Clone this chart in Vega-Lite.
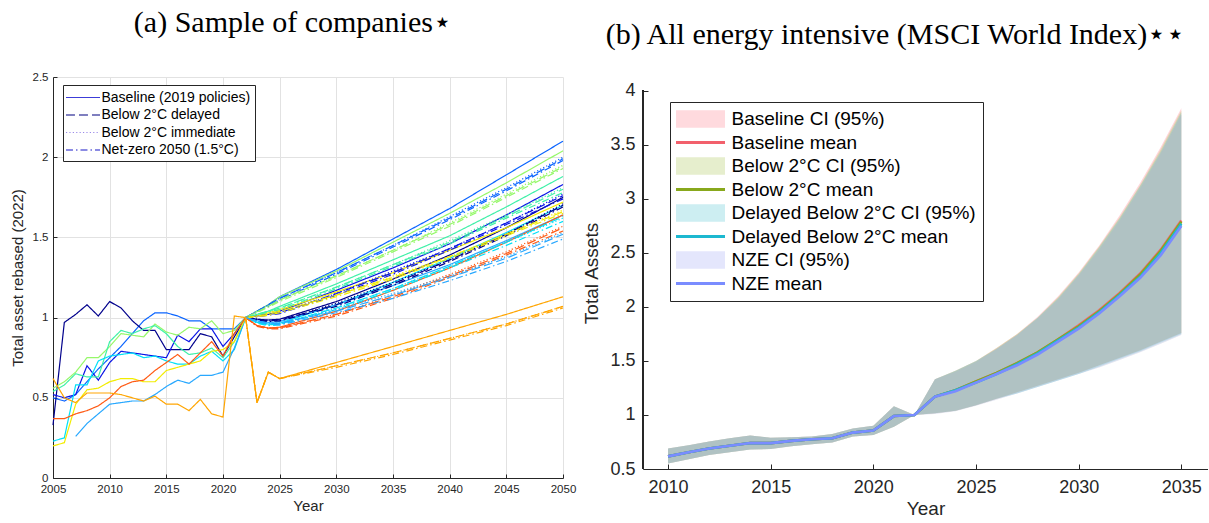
{
  "$schema": "https://vega.github.io/schema/vega-lite/v6.json",
  "background": "white",
  "padding": {"left": 10, "top": 8, "right": 0, "bottom": 0},
  "spacing": 6,
  "config": {
    "font": "Liberation Sans",
    "view": {"stroke": null},
    "axis": {
      "labelFont": "Liberation Sans",
      "titleFont": "Liberation Sans",
      "labelColor": "#262626",
      "titleColor": "#262626",
      "domainColor": "#262626",
      "tickColor": "#262626",
      "titleFontWeight": "normal",
      "labelFlush": false
    },
    "title": {"font": "Liberation Serif", "fontWeight": "normal", "color": "black"}
  },
  "resolve": {"scale": {"color": "independent", "shape": "independent", "strokeDash": "independent"}, "legend": {"color": "independent", "shape": "independent", "strokeDash": "independent"}},
  "hconcat": [
    {
      "width": 510,
      "height": 401,
      "title": {
        "text": "(a) Sample of companies⋆",
        "fontSize": 30,
        "baseline": "alphabetic",
        "offset": 9,
        "anchor": "middle",
        "frame": "bounds"
      },
      "data": {
        "values": [
          {"c": "az", "y": 2005, "B": 0.50}, {"c": "az", "y": 2006, "B": 0.48}, {"c": "az", "y": 2007, "B": 0.52}, {"c": "az", "y": 2008, "B": 0.60}, {"c": "az", "y": 2009, "B": 0.68}, {"c": "az", "y": 2010, "B": 0.75}, {"c": "az", "y": 2011, "B": 0.82}, {"c": "az", "y": 2012, "B": 0.90}, {"c": "az", "y": 2013, "B": 0.98}, {"c": "az", "y": 2014, "B": 1.03}, {"c": "az", "y": 2015, "B": 1.03}, {"c": "az", "y": 2016, "B": 1.01}, {"c": "az", "y": 2017, "B": 0.98}, {"c": "az", "y": 2018, "B": 0.98}, {"c": "az", "y": 2019, "B": 0.93}, {"c": "az", "y": 2020, "B": 0.93}, {"c": "az", "y": 2021, "B": 0.93},
          {"c": "nv", "y": 2005, "B": 0.33}, {"c": "nv", "y": 2006, "B": 0.97}, {"c": "nv", "y": 2007, "B": 1.02}, {"c": "nv", "y": 2008, "B": 1.08}, {"c": "nv", "y": 2009, "B": 1.01}, {"c": "nv", "y": 2010, "B": 1.10}, {"c": "nv", "y": 2011, "B": 1.06}, {"c": "nv", "y": 2012, "B": 0.98}, {"c": "nv", "y": 2013, "B": 0.92}, {"c": "nv", "y": 2014, "B": 0.92}, {"c": "nv", "y": 2015, "B": 0.80}, {"c": "nv", "y": 2016, "B": 0.80}, {"c": "nv", "y": 2017, "B": 0.80}, {"c": "nv", "y": 2018, "B": 0.90}, {"c": "nv", "y": 2019, "B": 0.88}, {"c": "nv", "y": 2020, "B": 0.76}, {"c": "nv", "y": 2021, "B": 0.88},
          {"c": "bl", "y": 2005, "B": 0.52}, {"c": "bl", "y": 2006, "B": 0.50}, {"c": "bl", "y": 2007, "B": 0.52}, {"c": "bl", "y": 2008, "B": 0.70}, {"c": "bl", "y": 2009, "B": 0.61}, {"c": "bl", "y": 2010, "B": 0.72}, {"c": "bl", "y": 2011, "B": 0.79}, {"c": "bl", "y": 2012, "B": 0.78}, {"c": "bl", "y": 2013, "B": 0.77}, {"c": "bl", "y": 2014, "B": 0.76}, {"c": "bl", "y": 2015, "B": 0.75}, {"c": "bl", "y": 2016, "B": 0.89}, {"c": "bl", "y": 2017, "B": 0.85}, {"c": "bl", "y": 2018, "B": 0.93}, {"c": "bl", "y": 2019, "B": 0.93}, {"c": "bl", "y": 2020, "B": 0.82}, {"c": "bl", "y": 2021, "B": 0.90},
          {"c": "lg", "y": 2005, "B": 0.56}, {"c": "lg", "y": 2006, "B": 0.60}, {"c": "lg", "y": 2007, "B": 0.66}, {"c": "lg", "y": 2008, "B": 0.75}, {"c": "lg", "y": 2009, "B": 0.75}, {"c": "lg", "y": 2010, "B": 0.82}, {"c": "lg", "y": 2011, "B": 0.90}, {"c": "lg", "y": 2012, "B": 0.89}, {"c": "lg", "y": 2013, "B": 0.88}, {"c": "lg", "y": 2014, "B": 0.96}, {"c": "lg", "y": 2015, "B": 0.91}, {"c": "lg", "y": 2016, "B": 0.89}, {"c": "lg", "y": 2017, "B": 0.94}, {"c": "lg", "y": 2018, "B": 0.93}, {"c": "lg", "y": 2019, "B": 0.98}, {"c": "lg", "y": 2020, "B": 0.90}, {"c": "lg", "y": 2021, "B": 0.92},
          {"c": "aq", "y": 2005, "B": 0.54}, {"c": "aq", "y": 2006, "B": 0.58}, {"c": "aq", "y": 2007, "B": 0.65}, {"c": "aq", "y": 2008, "B": 0.63}, {"c": "aq", "y": 2009, "B": 0.63}, {"c": "aq", "y": 2010, "B": 0.85}, {"c": "aq", "y": 2011, "B": 0.92}, {"c": "aq", "y": 2012, "B": 0.90}, {"c": "aq", "y": 2013, "B": 0.93}, {"c": "aq", "y": 2014, "B": 0.95}, {"c": "aq", "y": 2015, "B": 0.90}, {"c": "aq", "y": 2016, "B": 0.82}, {"c": "aq", "y": 2017, "B": 0.77}, {"c": "aq", "y": 2018, "B": 0.78}, {"c": "aq", "y": 2019, "B": 0.81}, {"c": "aq", "y": 2020, "B": 0.75}, {"c": "aq", "y": 2021, "B": 0.85},
          {"c": "cy", "y": 2005, "B": 0.23}, {"c": "cy", "y": 2006, "B": 0.25}, {"c": "cy", "y": 2007, "B": 0.58}, {"c": "cy", "y": 2008, "B": 0.58}, {"c": "cy", "y": 2009, "B": 0.73}, {"c": "cy", "y": 2010, "B": 0.76}, {"c": "cy", "y": 2011, "B": 0.77}, {"c": "cy", "y": 2012, "B": 0.78}, {"c": "cy", "y": 2013, "B": 0.75}, {"c": "cy", "y": 2014, "B": 0.76}, {"c": "cy", "y": 2015, "B": 0.73}, {"c": "cy", "y": 2016, "B": 0.71}, {"c": "cy", "y": 2017, "B": 0.71}, {"c": "cy", "y": 2018, "B": 0.76}, {"c": "cy", "y": 2019, "B": 0.79}, {"c": "cy", "y": 2020, "B": 0.73}, {"c": "cy", "y": 2021, "B": 0.80},
          {"c": "sk", "y": 2007, "B": 0.26}, {"c": "sk", "y": 2008, "B": 0.34}, {"c": "sk", "y": 2009, "B": 0.40}, {"c": "sk", "y": 2010, "B": 0.46}, {"c": "sk", "y": 2011, "B": 0.47}, {"c": "sk", "y": 2012, "B": 0.48}, {"c": "sk", "y": 2013, "B": 0.48}, {"c": "sk", "y": 2014, "B": 0.52}, {"c": "sk", "y": 2015, "B": 0.57}, {"c": "sk", "y": 2016, "B": 0.61}, {"c": "sk", "y": 2017, "B": 0.59}, {"c": "sk", "y": 2018, "B": 0.64}, {"c": "sk", "y": 2019, "B": 0.64}, {"c": "sk", "y": 2020, "B": 0.66}, {"c": "sk", "y": 2021, "B": 0.81},
          {"c": "ye", "y": 2005, "B": 0.20}, {"c": "ye", "y": 2006, "B": 0.22}, {"c": "ye", "y": 2007, "B": 0.46}, {"c": "ye", "y": 2008, "B": 0.55}, {"c": "ye", "y": 2009, "B": 0.56}, {"c": "ye", "y": 2010, "B": 0.60}, {"c": "ye", "y": 2011, "B": 0.62}, {"c": "ye", "y": 2012, "B": 0.62}, {"c": "ye", "y": 2013, "B": 0.60}, {"c": "ye", "y": 2014, "B": 0.60}, {"c": "ye", "y": 2015, "B": 0.67}, {"c": "ye", "y": 2016, "B": 0.69}, {"c": "ye", "y": 2017, "B": 0.71}, {"c": "ye", "y": 2018, "B": 0.73}, {"c": "ye", "y": 2019, "B": 0.79}, {"c": "ye", "y": 2020, "B": 0.80}, {"c": "ye", "y": 2021, "B": 0.85},
          {"c": "or", "y": 2005, "B": 0.37}, {"c": "or", "y": 2006, "B": 0.37}, {"c": "or", "y": 2007, "B": 0.40}, {"c": "or", "y": 2008, "B": 0.42}, {"c": "or", "y": 2009, "B": 0.45}, {"c": "or", "y": 2010, "B": 0.50}, {"c": "or", "y": 2011, "B": 0.57}, {"c": "or", "y": 2012, "B": 0.60}, {"c": "or", "y": 2013, "B": 0.61}, {"c": "or", "y": 2014, "B": 0.67}, {"c": "or", "y": 2015, "B": 0.72}, {"c": "or", "y": 2016, "B": 0.77}, {"c": "or", "y": 2017, "B": 0.71}, {"c": "or", "y": 2018, "B": 0.78}, {"c": "or", "y": 2019, "B": 0.85}, {"c": "or", "y": 2020, "B": 0.76}, {"c": "or", "y": 2021, "B": 0.90},
          {"c": "og", "y": 2005, "B": 0.62}, {"c": "og", "y": 2006, "B": 0.50}, {"c": "og", "y": 2007, "B": 0.47}, {"c": "og", "y": 2008, "B": 0.53}, {"c": "og", "y": 2009, "B": 0.53}, {"c": "og", "y": 2010, "B": 0.53}, {"c": "og", "y": 2011, "B": 0.52}, {"c": "og", "y": 2012, "B": 0.50}, {"c": "og", "y": 2013, "B": 0.48}, {"c": "og", "y": 2014, "B": 0.51}, {"c": "og", "y": 2015, "B": 0.46}, {"c": "og", "y": 2016, "B": 0.46}, {"c": "og", "y": 2017, "B": 0.42}, {"c": "og", "y": 2018, "B": 0.49}, {"c": "og", "y": 2019, "B": 0.40}, {"c": "og", "y": 2020, "B": 0.38}, {"c": "og", "y": 2021, "B": 1.01},
          {"c": "az", "y": 2022, "B": 1, "D": 1, "I": 1, "N": 1}, {"c": "az", "y": 2023, "B": 1.04, "D": 1.04, "I": 1.04, "N": 1.035}, {"c": "az", "y": 2024, "B": 1.08, "D": 1.08, "I": 1.08, "N": 1.07}, {"c": "az", "y": 2025, "B": 1.13, "D": 1.12, "I": 1.12, "N": 1.11}, {"c": "az", "y": 2030, "B": 1.30, "D": 1.28, "I": 1.28, "N": 1.27}, {"c": "az", "y": 2035, "B": 1.49, "D": 1.45, "I": 1.45, "N": 1.44}, {"c": "az", "y": 2040, "B": 1.68, "D": 1.62, "I": 1.63, "N": 1.61}, {"c": "az", "y": 2045, "B": 1.89, "D": 1.80, "I": 1.81, "N": 1.79}, {"c": "az", "y": 2050, "B": 2.10, "D": 1.99, "I": 2.00, "N": 1.98},
          {"c": "lg", "y": 2022, "B": 1, "D": 1, "I": 1, "N": 1}, {"c": "lg", "y": 2023, "B": 1.04, "D": 1.035, "I": 1.035, "N": 1.03}, {"c": "lg", "y": 2024, "B": 1.08, "D": 1.07, "I": 1.07, "N": 1.065}, {"c": "lg", "y": 2025, "B": 1.13, "D": 1.11, "I": 1.11, "N": 1.10}, {"c": "lg", "y": 2030, "B": 1.29, "D": 1.26, "I": 1.26, "N": 1.25}, {"c": "lg", "y": 2035, "B": 1.47, "D": 1.42, "I": 1.42, "N": 1.41}, {"c": "lg", "y": 2040, "B": 1.65, "D": 1.58, "I": 1.59, "N": 1.57}, {"c": "lg", "y": 2045, "B": 1.84, "D": 1.76, "I": 1.77, "N": 1.75}, {"c": "lg", "y": 2050, "B": 2.04, "D": 1.94, "I": 1.95, "N": 1.93},
          {"c": "aq", "y": 2022, "B": 1, "D": 1, "I": 1, "N": 1}, {"c": "aq", "y": 2023, "B": 1.02, "D": 1.02, "I": 1.02, "N": 1.015}, {"c": "aq", "y": 2024, "B": 1.04, "D": 1.04, "I": 1.04, "N": 1.035}, {"c": "aq", "y": 2025, "B": 1.07, "D": 1.06, "I": 1.06, "N": 1.05}, {"c": "aq", "y": 2030, "B": 1.21, "D": 1.19, "I": 1.19, "N": 1.18}, {"c": "aq", "y": 2035, "B": 1.36, "D": 1.33, "I": 1.33, "N": 1.32}, {"c": "aq", "y": 2040, "B": 1.51, "D": 1.47, "I": 1.48, "N": 1.46}, {"c": "aq", "y": 2045, "B": 1.69, "D": 1.63, "I": 1.64, "N": 1.62}, {"c": "aq", "y": 2050, "B": 1.88, "D": 1.80, "I": 1.81, "N": 1.78},
          {"c": "bl", "y": 2022, "B": 1, "D": 1, "I": 1, "N": 1}, {"c": "bl", "y": 2023, "B": 1.01, "D": 1.01, "I": 1.01, "N": 1.005}, {"c": "bl", "y": 2024, "B": 1.02, "D": 1.02, "I": 1.02, "N": 1.015}, {"c": "bl", "y": 2025, "B": 1.04, "D": 1.03, "I": 1.03, "N": 1.025}, {"c": "bl", "y": 2030, "B": 1.17, "D": 1.15, "I": 1.15, "N": 1.14}, {"c": "bl", "y": 2035, "B": 1.31, "D": 1.28, "I": 1.29, "N": 1.27}, {"c": "bl", "y": 2040, "B": 1.46, "D": 1.43, "I": 1.43, "N": 1.42}, {"c": "bl", "y": 2045, "B": 1.64, "D": 1.59, "I": 1.59, "N": 1.58}, {"c": "bl", "y": 2050, "B": 1.83, "D": 1.76, "I": 1.77, "N": 1.74},
          {"c": "nv", "y": 2022, "B": 1, "D": 1, "I": 1, "N": 1}, {"c": "nv", "y": 2023, "B": 0.99, "D": 0.99, "I": 0.99, "N": 0.985}, {"c": "nv", "y": 2024, "B": 0.985, "D": 0.98, "I": 0.98, "N": 0.975}, {"c": "nv", "y": 2025, "B": 0.99, "D": 0.985, "I": 0.985, "N": 0.98}, {"c": "nv", "y": 2030, "B": 1.10, "D": 1.08, "I": 1.09, "N": 1.07}, {"c": "nv", "y": 2035, "B": 1.24, "D": 1.21, "I": 1.22, "N": 1.20}, {"c": "nv", "y": 2040, "B": 1.39, "D": 1.36, "I": 1.36, "N": 1.35}, {"c": "nv", "y": 2045, "B": 1.56, "D": 1.52, "I": 1.52, "N": 1.51}, {"c": "nv", "y": 2050, "B": 1.75, "D": 1.70, "I": 1.71, "N": 1.69},
          {"c": "ye", "y": 2022, "B": 1, "D": 1, "I": 1, "N": 1}, {"c": "ye", "y": 2023, "B": 1.01, "D": 1.01, "I": 1.01, "N": 1.005}, {"c": "ye", "y": 2024, "B": 1.03, "D": 1.02, "I": 1.02, "N": 1.015}, {"c": "ye", "y": 2025, "B": 1.05, "D": 1.04, "I": 1.04, "N": 1.03}, {"c": "ye", "y": 2030, "B": 1.16, "D": 1.14, "I": 1.14, "N": 1.13}, {"c": "ye", "y": 2035, "B": 1.28, "D": 1.25, "I": 1.26, "N": 1.24}, {"c": "ye", "y": 2040, "B": 1.42, "D": 1.38, "I": 1.38, "N": 1.37}, {"c": "ye", "y": 2045, "B": 1.56, "D": 1.52, "I": 1.52, "N": 1.51}, {"c": "ye", "y": 2050, "B": 1.72, "D": 1.66, "I": 1.67, "N": 1.65},
          {"c": "cy", "y": 2022, "B": 1, "D": 1, "I": 1, "N": 1}, {"c": "cy", "y": 2023, "B": 0.97, "D": 0.97, "I": 0.97, "N": 0.965}, {"c": "cy", "y": 2024, "B": 0.96, "D": 0.955, "I": 0.955, "N": 0.95}, {"c": "cy", "y": 2025, "B": 0.965, "D": 0.96, "I": 0.96, "N": 0.955}, {"c": "cy", "y": 2030, "B": 1.08, "D": 1.06, "I": 1.06, "N": 1.05}, {"c": "cy", "y": 2035, "B": 1.22, "D": 1.18, "I": 1.18, "N": 1.17}, {"c": "cy", "y": 2040, "B": 1.37, "D": 1.32, "I": 1.32, "N": 1.31}, {"c": "cy", "y": 2045, "B": 1.53, "D": 1.47, "I": 1.47, "N": 1.45}, {"c": "cy", "y": 2050, "B": 1.70, "D": 1.63, "I": 1.62, "N": 1.60},
          {"c": "or", "y": 2022, "B": 1, "D": 1, "I": 1, "N": 1}, {"c": "or", "y": 2023, "B": 0.95, "D": 0.95, "I": 0.95, "N": 0.945}, {"c": "or", "y": 2024, "B": 0.935, "D": 0.935, "I": 0.935, "N": 0.93}, {"c": "or", "y": 2025, "B": 0.94, "D": 0.935, "I": 0.935, "N": 0.93}, {"c": "or", "y": 2030, "B": 1.04, "D": 1.02, "I": 1.02, "N": 1.01}, {"c": "or", "y": 2035, "B": 1.17, "D": 1.13, "I": 1.14, "N": 1.12}, {"c": "or", "y": 2040, "B": 1.31, "D": 1.26, "I": 1.27, "N": 1.25}, {"c": "or", "y": 2045, "B": 1.47, "D": 1.40, "I": 1.41, "N": 1.39}, {"c": "or", "y": 2050, "B": 1.64, "D": 1.56, "I": 1.57, "N": 1.54},
          {"c": "sk", "y": 2022, "B": 1, "D": 1, "I": 1, "N": 1}, {"c": "sk", "y": 2023, "B": 0.98, "D": 0.98, "I": 0.98, "N": 0.975}, {"c": "sk", "y": 2024, "B": 0.97, "D": 0.965, "I": 0.965, "N": 0.96}, {"c": "sk", "y": 2025, "B": 0.975, "D": 0.965, "I": 0.965, "N": 0.955}, {"c": "sk", "y": 2030, "B": 1.08, "D": 1.04, "I": 1.05, "N": 1.03}, {"c": "sk", "y": 2035, "B": 1.20, "D": 1.14, "I": 1.15, "N": 1.12}, {"c": "sk", "y": 2040, "B": 1.33, "D": 1.25, "I": 1.26, "N": 1.23}, {"c": "sk", "y": 2045, "B": 1.48, "D": 1.37, "I": 1.38, "N": 1.35}, {"c": "sk", "y": 2050, "B": 1.64, "D": 1.52, "I": 1.53, "N": 1.49},
          {"c": "og", "y": 2022, "B": 1, "D": 1, "I": 1, "N": 1}, {"c": "og", "y": 2023, "B": 0.47, "D": 0.47, "I": 0.47, "N": 0.47}, {"c": "og", "y": 2024, "B": 0.66, "D": 0.66, "I": 0.66, "N": 0.66}, {"c": "og", "y": 2025, "B": 0.62, "D": 0.62, "I": 0.62, "N": 0.62}, {"c": "og", "y": 2030, "B": 0.72, "D": 0.70, "I": 0.70, "N": 0.69}, {"c": "og", "y": 2035, "B": 0.82, "D": 0.78, "I": 0.78, "N": 0.77}, {"c": "og", "y": 2040, "B": 0.92, "D": 0.87, "I": 0.87, "N": 0.86}, {"c": "og", "y": 2045, "B": 1.02, "D": 0.96, "I": 0.96, "N": 0.95}, {"c": "og", "y": 2050, "B": 1.13, "D": 1.07, "I": 1.07, "N": 1.06}
        ]
      },
      "transform": [
        {"fold": ["B", "D", "I", "N"], "as": ["sc", "v"]},
        {"filter": "isValid(datum.v)"}
      ],
      "encoding": {
        "x": {
          "field": "y",
          "type": "quantitative",
          "scale": {"domain": [2005, 2050], "nice": false, "zero": false},
          "axis": {
            "values": [2005, 2010, 2015, 2020, 2025, 2030, 2035, 2040, 2045, 2050],
            "format": "d",
            "labelFontSize": 11.5,
            "tickSize": -4,
            "labelPadding": 9,
            "grid": true,
            "gridColor": "#e2e2e2",
            "title": "Year",
            "titleFontSize": 15,
            "titlePadding": 4
          }
        },
        "y": {
          "field": "v",
          "type": "quantitative",
          "scale": {"domain": [0, 2.5], "nice": false},
          "axis": {
            "values": [0, 0.5, 1, 1.5, 2, 2.5],
            "format": "~g",
            "labelFontSize": 11.5,
            "tickSize": -4,
            "labelPadding": 9,
            "grid": true,
            "gridColor": "#e2e2e2",
            "title": "Total asset rebased (2022)",
            "titleFontSize": 15,
            "titlePadding": 7
          }
        }
      },
      "layer": [
        {
          "mark": {"type": "line", "strokeWidth": 1.2},
          "encoding": {
            "color": {
              "field": "c",
              "type": "nominal",
              "scale": {
                "domain": ["og", "or", "ye", "sk", "cy", "aq", "lg", "az", "bl", "nv"],
                "range": ["#ffa500", "#ff5a14", "#f2ec00", "#28a8ff", "#00e0f8", "#40f0a8", "#96f86a", "#0a64ff", "#0a14e6", "#00008c"]
              },
              "legend": null
            },
            "strokeDash": {
              "field": "sc",
              "type": "nominal",
              "scale": {"domain": ["B", "D", "I", "N"], "range": [[1, 0], [9, 4], [1.2, 2.2], [7, 3, 1.5, 3]]},
              "legend": null
            }
          }
        },
        {
          "transform": [{"filter": "false"}],
          "mark": {"type": "line", "strokeWidth": 1.2},
          "encoding": {
            "color": {
              "field": "sc",
              "type": "nominal",
              "scale": {"domain": ["B", "D", "I", "N"], "range": ["#3c3cd8", "#000080", "#9a8ae8", "#1818c8"]},
              "legend": {
                "orient": "none",
                "legendX": 10,
                "legendY": 8,
                "title": null,
                "labelExpr": "{'B': 'Baseline (2019 policies)', 'D': 'Below 2°C delayed', 'I': 'Below 2°C immediate', 'N': 'Net-zero 2050 (1.5°C)'}[datum.value]",
                "labelFontSize": 14,
                "labelColor": "black",
                "labelLimit": 0,
                "symbolType": "M-2.27,0H2.27",
                "symbolSize": 225,
                "symbolStrokeWidth": 1.2,
                "symbolOffset": 7.5,
                "labelOffset": 10,
                "rowPadding": 1.5,
                "padding": 4,
                "strokeColor": "#262626",
                "fillColor": "white"
              }
            },
            "strokeDash": {
              "field": "sc",
              "type": "nominal",
              "scale": {"domain": ["B", "D", "I", "N"], "range": [[1, 0], [9, 4], [1.2, 2.2], [7, 3, 1.5, 3]]},
              "legend": {
                "orient": "none",
                "legendX": 10,
                "legendY": 8,
                "title": null,
                "labelExpr": "{'B': 'Baseline (2019 policies)', 'D': 'Below 2°C delayed', 'I': 'Below 2°C immediate', 'N': 'Net-zero 2050 (1.5°C)'}[datum.value]",
                "labelFontSize": 14,
                "labelColor": "black",
                "labelLimit": 0,
                "symbolType": "M-2.27,0H2.27",
                "symbolSize": 225,
                "symbolStrokeWidth": 1.2,
                "symbolOffset": 7.5,
                "labelOffset": 10,
                "rowPadding": 1.5,
                "padding": 4,
                "strokeColor": "#262626",
                "fillColor": "white"
              }
            }
          }
        }
      ],
      "resolve": {"scale": {"color": "independent", "strokeDash": "independent"}}
    },
    {
      "width": 565,
      "height": 392,
      "title": {
        "text": "(b) All energy intensive (MSCI World Index)⋆⋆",
        "fontSize": 30,
        "baseline": "alphabetic",
        "offset": 3,
        "anchor": "middle",
        "frame": "bounds"
      },
      "data": {
        "values": [
          {"s": "a", "y": 2010, "m": 0.617, "lo": 0.55, "hi": 0.69}, {"s": "a", "y": 2011, "m": 0.655, "lo": 0.59, "hi": 0.72}, {"s": "a", "y": 2012, "m": 0.69, "lo": 0.63, "hi": 0.755}, {"s": "a", "y": 2013, "m": 0.715, "lo": 0.655, "hi": 0.785}, {"s": "a", "y": 2014, "m": 0.74, "lo": 0.68, "hi": 0.81}, {"s": "a", "y": 2015, "m": 0.74, "lo": 0.685, "hi": 0.79}, {"s": "a", "y": 2016, "m": 0.76, "lo": 0.71, "hi": 0.795}, {"s": "a", "y": 2017, "m": 0.775, "lo": 0.73, "hi": 0.80}, {"s": "a", "y": 2018, "m": 0.785, "lo": 0.745, "hi": 0.825}, {"s": "a", "y": 2019, "m": 0.837, "lo": 0.80, "hi": 0.875}, {"s": "a", "y": 2020, "m": 0.856, "lo": 0.815, "hi": 0.90}, {"s": "a", "y": 2021, "m": 0.99, "lo": 0.89, "hi": 1.08}, {"s": "a", "y": 2022, "m": 1.0, "lo": 1.0, "hi": 1.0},
          {"s": "a", "y": 2023, "m": 1.17, "lo": 1.015, "hi": 1.33}, {"s": "a", "y": 2024, "m": 1.23, "lo": 1.04, "hi": 1.41}, {"s": "a", "y": 2025, "m": 1.31, "lo": 1.09, "hi": 1.50}, {"s": "a", "y": 2026, "m": 1.39, "lo": 1.15, "hi": 1.62}, {"s": "a", "y": 2027, "m": 1.48, "lo": 1.21, "hi": 1.75}, {"s": "a", "y": 2028, "m": 1.58, "lo": 1.27, "hi": 1.91}, {"s": "a", "y": 2029, "m": 1.70, "lo": 1.33, "hi": 2.10}, {"s": "a", "y": 2030, "m": 1.83, "lo": 1.39, "hi": 2.32}, {"s": "a", "y": 2031, "m": 1.97, "lo": 1.46, "hi": 2.57}, {"s": "a", "y": 2032, "m": 2.13, "lo": 1.53, "hi": 2.85}, {"s": "a", "y": 2033, "m": 2.31, "lo": 1.60, "hi": 3.15}, {"s": "a", "y": 2034, "m": 2.53, "lo": 1.68, "hi": 3.48}, {"s": "a", "y": 2035, "m": 2.80, "lo": 1.76, "hi": 3.84},
          {"s": "b", "y": 2010, "m": 0.617, "lo": 0.55, "hi": 0.69}, {"s": "b", "y": 2011, "m": 0.655, "lo": 0.59, "hi": 0.72}, {"s": "b", "y": 2012, "m": 0.69, "lo": 0.63, "hi": 0.755}, {"s": "b", "y": 2013, "m": 0.715, "lo": 0.655, "hi": 0.785}, {"s": "b", "y": 2014, "m": 0.74, "lo": 0.68, "hi": 0.81}, {"s": "b", "y": 2015, "m": 0.74, "lo": 0.685, "hi": 0.79}, {"s": "b", "y": 2016, "m": 0.76, "lo": 0.71, "hi": 0.795}, {"s": "b", "y": 2017, "m": 0.775, "lo": 0.73, "hi": 0.80}, {"s": "b", "y": 2018, "m": 0.785, "lo": 0.745, "hi": 0.825}, {"s": "b", "y": 2019, "m": 0.837, "lo": 0.80, "hi": 0.875}, {"s": "b", "y": 2020, "m": 0.856, "lo": 0.815, "hi": 0.90}, {"s": "b", "y": 2021, "m": 0.99, "lo": 0.89, "hi": 1.08}, {"s": "b", "y": 2022, "m": 1.0, "lo": 1.0, "hi": 1.0},
          {"s": "b", "y": 2023, "m": 1.17, "lo": 1.015, "hi": 1.33}, {"s": "b", "y": 2024, "m": 1.23, "lo": 1.04, "hi": 1.41}, {"s": "b", "y": 2025, "m": 1.31, "lo": 1.09, "hi": 1.50}, {"s": "b", "y": 2026, "m": 1.39, "lo": 1.15, "hi": 1.62}, {"s": "b", "y": 2027, "m": 1.48, "lo": 1.21, "hi": 1.75}, {"s": "b", "y": 2028, "m": 1.58, "lo": 1.27, "hi": 1.90}, {"s": "b", "y": 2029, "m": 1.70, "lo": 1.33, "hi": 2.09}, {"s": "b", "y": 2030, "m": 1.82, "lo": 1.39, "hi": 2.31}, {"s": "b", "y": 2031, "m": 1.96, "lo": 1.46, "hi": 2.56}, {"s": "b", "y": 2032, "m": 2.12, "lo": 1.53, "hi": 2.83}, {"s": "b", "y": 2033, "m": 2.30, "lo": 1.60, "hi": 3.13}, {"s": "b", "y": 2034, "m": 2.52, "lo": 1.68, "hi": 3.46}, {"s": "b", "y": 2035, "m": 2.79, "lo": 1.76, "hi": 3.82},
          {"s": "c", "y": 2010, "m": 0.617, "lo": 0.55, "hi": 0.69}, {"s": "c", "y": 2011, "m": 0.655, "lo": 0.59, "hi": 0.72}, {"s": "c", "y": 2012, "m": 0.69, "lo": 0.63, "hi": 0.755}, {"s": "c", "y": 2013, "m": 0.715, "lo": 0.655, "hi": 0.785}, {"s": "c", "y": 2014, "m": 0.74, "lo": 0.68, "hi": 0.81}, {"s": "c", "y": 2015, "m": 0.74, "lo": 0.685, "hi": 0.79}, {"s": "c", "y": 2016, "m": 0.76, "lo": 0.71, "hi": 0.795}, {"s": "c", "y": 2017, "m": 0.775, "lo": 0.73, "hi": 0.80}, {"s": "c", "y": 2018, "m": 0.785, "lo": 0.745, "hi": 0.825}, {"s": "c", "y": 2019, "m": 0.837, "lo": 0.80, "hi": 0.875}, {"s": "c", "y": 2020, "m": 0.856, "lo": 0.815, "hi": 0.90}, {"s": "c", "y": 2021, "m": 0.99, "lo": 0.89, "hi": 1.08}, {"s": "c", "y": 2022, "m": 1.0, "lo": 1.0, "hi": 1.0},
          {"s": "c", "y": 2023, "m": 1.17, "lo": 1.015, "hi": 1.33}, {"s": "c", "y": 2024, "m": 1.23, "lo": 1.04, "hi": 1.41}, {"s": "c", "y": 2025, "m": 1.30, "lo": 1.09, "hi": 1.50}, {"s": "c", "y": 2026, "m": 1.38, "lo": 1.15, "hi": 1.61}, {"s": "c", "y": 2027, "m": 1.47, "lo": 1.20, "hi": 1.74}, {"s": "c", "y": 2028, "m": 1.57, "lo": 1.26, "hi": 1.90}, {"s": "c", "y": 2029, "m": 1.69, "lo": 1.32, "hi": 2.08}, {"s": "c", "y": 2030, "m": 1.81, "lo": 1.38, "hi": 2.30}, {"s": "c", "y": 2031, "m": 1.95, "lo": 1.45, "hi": 2.55}, {"s": "c", "y": 2032, "m": 2.11, "lo": 1.52, "hi": 2.82}, {"s": "c", "y": 2033, "m": 2.28, "lo": 1.59, "hi": 3.12}, {"s": "c", "y": 2034, "m": 2.50, "lo": 1.67, "hi": 3.44}, {"s": "c", "y": 2035, "m": 2.77, "lo": 1.75, "hi": 3.80},
          {"s": "d", "y": 2010, "m": 0.617, "lo": 0.55, "hi": 0.69}, {"s": "d", "y": 2011, "m": 0.655, "lo": 0.59, "hi": 0.72}, {"s": "d", "y": 2012, "m": 0.69, "lo": 0.63, "hi": 0.755}, {"s": "d", "y": 2013, "m": 0.715, "lo": 0.655, "hi": 0.785}, {"s": "d", "y": 2014, "m": 0.74, "lo": 0.68, "hi": 0.81}, {"s": "d", "y": 2015, "m": 0.74, "lo": 0.685, "hi": 0.79}, {"s": "d", "y": 2016, "m": 0.76, "lo": 0.71, "hi": 0.795}, {"s": "d", "y": 2017, "m": 0.775, "lo": 0.73, "hi": 0.80}, {"s": "d", "y": 2018, "m": 0.785, "lo": 0.745, "hi": 0.825}, {"s": "d", "y": 2019, "m": 0.837, "lo": 0.80, "hi": 0.875}, {"s": "d", "y": 2020, "m": 0.856, "lo": 0.815, "hi": 0.90}, {"s": "d", "y": 2021, "m": 0.99, "lo": 0.89, "hi": 1.08}, {"s": "d", "y": 2022, "m": 1.0, "lo": 1.0, "hi": 1.0},
          {"s": "d", "y": 2023, "m": 1.17, "lo": 1.01, "hi": 1.33}, {"s": "d", "y": 2024, "m": 1.22, "lo": 1.035, "hi": 1.40}, {"s": "d", "y": 2025, "m": 1.30, "lo": 1.085, "hi": 1.49}, {"s": "d", "y": 2026, "m": 1.38, "lo": 1.14, "hi": 1.61}, {"s": "d", "y": 2027, "m": 1.46, "lo": 1.20, "hi": 1.74}, {"s": "d", "y": 2028, "m": 1.56, "lo": 1.26, "hi": 1.89}, {"s": "d", "y": 2029, "m": 1.68, "lo": 1.32, "hi": 2.07}, {"s": "d", "y": 2030, "m": 1.80, "lo": 1.38, "hi": 2.29}, {"s": "d", "y": 2031, "m": 1.94, "lo": 1.44, "hi": 2.53}, {"s": "d", "y": 2032, "m": 2.10, "lo": 1.51, "hi": 2.80}, {"s": "d", "y": 2033, "m": 2.27, "lo": 1.58, "hi": 3.10}, {"s": "d", "y": 2034, "m": 2.48, "lo": 1.66, "hi": 3.42}, {"s": "d", "y": 2035, "m": 2.75, "lo": 1.74, "hi": 3.78}
        ]
      },
      "encoding": {
        "x": {
          "field": "y",
          "type": "quantitative",
          "scale": {"domain": [2008.78, 2036.3], "nice": false, "zero": false},
          "axis": {
            "values": [2010, 2015, 2020, 2025, 2030, 2035],
            "format": "d",
            "labelFontSize": 18,
            "tickSize": -5,
            "labelPadding": 14,
            "grid": false,
            "title": "Year",
            "titleFontSize": 19,
            "titlePadding": 3
          }
        },
        "y": {
          "field": "m",
          "type": "quantitative",
          "scale": {"domain": [0.5, 4.129], "nice": false, "zero": false},
          "axis": {
            "values": [0.5, 1, 1.5, 2, 2.5, 3, 3.5, 4],
            "format": "~g",
            "labelFontSize": 18,
            "tickSize": -5,
            "labelPadding": 13,
            "grid": false,
            "domain": false,
            "title": "Total Assets",
            "titleFontSize": 19,
            "titlePadding": 8
          }
        }
      },
      "layer": [
        {
          "mark": {"type": "area", "opacity": 0.33},
          "encoding": {
            "y": {"field": "lo", "type": "quantitative"},
            "y2": {"field": "hi"},
            "color": {
              "field": "s",
              "type": "nominal",
              "scale": {"domain": ["a", "b", "c", "d"], "range": ["#ff8491", "#acc658", "#58c6d4", "#a5acd2"]},
              "legend": null
            }
          }
        },
        {
          "mark": {"type": "line", "strokeWidth": 2.6},
          "encoding": {
            "color": {
              "field": "s",
              "type": "nominal",
              "scale": {"domain": ["a", "b", "c", "d"], "range": ["#f2606c", "#88a81c", "#1cb8d0", "#7a8cff"]},
              "legend": null
            }
          }
        },
        {
          "mark": {"type": "rule", "color": "#262626", "strokeWidth": 1},
          "encoding": {
            "x": {"datum": 2008.78},
            "y": {"datum": 0.5},
            "y2": {"datum": 4}
          }
        },
        {
          "data": {
            "values": [
              {"lab": "Baseline CI (95%)"}, {"lab": "Baseline mean"},
              {"lab": "Below 2°C CI (95%)"}, {"lab": "Below 2°C mean"},
              {"lab": "Delayed Below 2°C CI (95%)"}, {"lab": "Delayed Below 2°C mean"},
              {"lab": "NZE CI (95%)"}, {"lab": "NZE mean"}
            ]
          },
          "transform": [{"filter": "false"}],
          "mark": {"type": "point", "filled": true, "opacity": 1},
          "encoding": {
            "x": {"datum": 2010},
            "y": {"datum": 1},
            "color": {
              "field": "lab",
              "type": "nominal",
              "scale": {
                "domain": ["Baseline CI (95%)", "Baseline mean", "Below 2°C CI (95%)", "Below 2°C mean", "Delayed Below 2°C CI (95%)", "Delayed Below 2°C mean", "NZE CI (95%)", "NZE mean"],
                "range": ["#ffdade", "#f2606c", "#e6eecd", "#88a81c", "#cdeef2", "#1cb8d0", "#e4e6fc", "#7a8cff"]
              },
              "legend": {
                "orient": "none",
                "legendX": 27,
                "legendY": 25,
                "title": null,
                "labelFontSize": 19,
                "labelColor": "black",
                "labelLimit": 0,
                "symbolSize": 400,
                "symbolStrokeWidth": 0,
                "symbolOffset": 13.5,
                "labelOffset": 21,
                "rowPadding": 3.5,
                "padding": 7,
                "strokeColor": "#262626",
                "fillColor": "white"
              }
            },
            "shape": {
              "field": "lab",
              "type": "nominal",
              "scale": {
                "domain": ["Baseline CI (95%)", "Baseline mean", "Below 2°C CI (95%)", "Below 2°C mean", "Delayed Below 2°C CI (95%)", "Delayed Below 2°C mean", "NZE CI (95%)", "NZE mean"],
                "range": ["M-2.45,-0.88H2.45V0.88H-2.45Z", "M-2.45,-0.16H2.45V0.16H-2.45Z", "M-2.45,-0.88H2.45V0.88H-2.45Z", "M-2.45,-0.16H2.45V0.16H-2.45Z", "M-2.45,-0.88H2.45V0.88H-2.45Z", "M-2.45,-0.16H2.45V0.16H-2.45Z", "M-2.45,-0.88H2.45V0.88H-2.45Z", "M-2.45,-0.16H2.45V0.16H-2.45Z"]
              },
              "legend": {
                "orient": "none",
                "legendX": 27,
                "legendY": 25,
                "title": null,
                "labelFontSize": 19,
                "labelColor": "black",
                "labelLimit": 0,
                "symbolSize": 400,
                "symbolStrokeWidth": 0,
                "symbolOffset": 13.5,
                "labelOffset": 21,
                "rowPadding": 3.5,
                "padding": 7,
                "strokeColor": "#262626",
                "fillColor": "white"
              }
            }
          }
        }
      ],
      "resolve": {"scale": {"color": "independent", "shape": "independent"}}
    }
  ]
}
